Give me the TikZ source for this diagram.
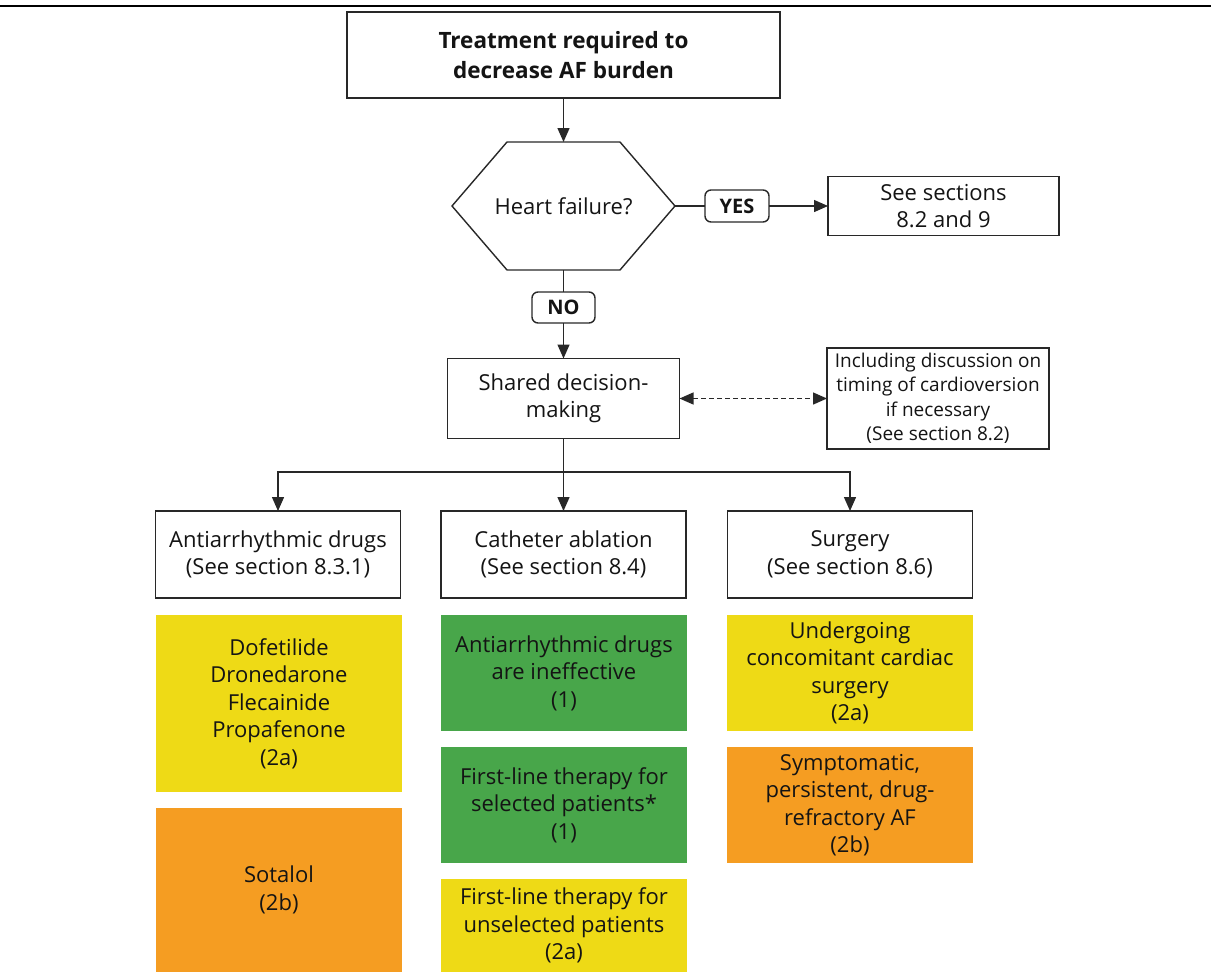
\documentclass[tikz,border=0pt]{standalone}
\usepackage{fontspec}
\setmainfont{Open Sans}
\usetikzlibrary{arrows.meta}
\definecolor{cyel}{RGB}{238,218,22}
\definecolor{cgrn}{RGB}{72,166,74}
\definecolor{corg}{RGB}{245,157,34}
\definecolor{cline}{RGB}{40,40,40}
\definecolor{ctext}{RGB}{20,20,20}
\begin{document}
\begin{tikzpicture}[x=1pt,y=-1pt,
  every node/.style={inner sep=0pt, outer sep=0pt, align=center, text=ctext},
  box/.style={draw=cline, line width=1.4pt, fill=white, font=\fontsize{22}{27.5}\selectfont},
  smallbox/.style={draw=cline, line width=1.4pt, fill=white, font=\fontsize{19}{24.5}\selectfont},
  lbl/.style={draw=cline, line width=1.4pt, fill=white, rounded corners=6pt, font=\fontsize{20}{22}\selectfont\bfseries},
  cbox/.style={font=\fontsize{22}{27.5}\selectfont},
  conn/.style={draw=cline, line width=1.4pt},
  arr/.style={conn, -{Triangle[width=12pt,length=14pt]}},
  darr/.style={conn, dash pattern=on 5pt off 3pt, {Triangle[width=12pt,length=14pt]}-{Triangle[width=12pt,length=14pt]}},
]
\useasboundingbox (0,0) rectangle (1211,972);
\draw[line width=2.5pt, black] (0,6) -- (1211,6);

% top box
\node[box, minimum width=433pt, minimum height=86pt, font=\fontsize{22.5}{30}\selectfont\bfseries] (top) at (563.5,55) {Treatment required to\\decrease AF burden};

% hexagon
\draw[conn] (452,206) -- (507,142) -- (620,142) -- (675,206) -- (620,270) -- (507,270) -- cycle;
\node[font=\fontsize{22}{27.5}\selectfont] (hf) at (563.5,206) {Heart failure?};
\coordinate (hexT) at (563.5,142);
\coordinate (hexB) at (563.5,270);
\coordinate (hexR) at (675,206);

\node[lbl, minimum width=64pt, minimum height=32pt] (yes) at (737,206) {YES};
\node[box, minimum width=231pt, minimum height=59pt] (see) at (943.5,206) {See sections\\8.2 and 9};
\node[lbl, minimum width=63pt, minimum height=31pt] (no) at (563.5,307.5) {NO};

\node[box, minimum width=232pt, minimum height=80pt] (shared) at (563.5,398.5) {Shared decision-\\making};
\node[smallbox, minimum width=222pt, minimum height=101pt] (info) at (938,398.5) {Including discussion on\\timing of cardioversion\\if necessary\\(See section 8.2)};

\node[box, minimum width=245pt, minimum height=87pt] (c1) at (278,554.5) {Antiarrhythmic drugs\\(See section 8.3.1)};
\node[box, minimum width=245pt, minimum height=87pt] (c2) at (563.5,554.5) {Catheter ablation\\(See section 8.4)};
\node[box, minimum width=245pt, minimum height=87pt] (c3) at (850,554.5) {Surgery\\(See section 8.6)};

% coloured boxes
\node[cbox, fill=cyel, minimum width=246pt, minimum height=177pt] (a1) at (279,703.5) {Dofetilide\\Dronedarone\\Flecainide\\Propafenone\\(2a)};
\node[cbox, fill=corg, minimum width=246pt, minimum height=164pt] (a2) at (279,890) {Sotalol\\(2b)};
\node[cbox, fill=cgrn, minimum width=246pt, minimum height=116pt] (b1) at (564,673) {Antiarrhythmic drugs\\are ineffective\\(1)};
\node[cbox, fill=cgrn, minimum width=246pt, minimum height=116pt] (b2) at (564,805) {First-line therapy for\\selected patients*\\(1)};
\node[cbox, fill=cyel, minimum width=246pt, minimum height=93pt] (b3) at (564,925.5) {First-line therapy for\\unselected patients\\(2a)};
\node[cbox, fill=cyel, minimum width=246pt, minimum height=116pt] (d1) at (850,673) {Undergoing\\concomitant cardiac\\surgery\\(2a)};
\node[cbox, fill=corg, minimum width=246pt, minimum height=116pt] (d2) at (850,805) {Symptomatic,\\persistent, drug-\\refractory AF\\(2b)};

% connectors
\draw[arr] (top.south) -- (hexT);
\draw[conn] (hexR) -- (yes.west);
\draw[arr] (yes.east) -- (see.west);
\draw[conn] (hexB) -- (no.north);
\draw[arr] (no.south) -- (shared.north);
\draw[darr] (shared.east) -- (info.west);
\coordinate (br) at (563.5,472);
\draw[arr] (shared.south) -- (c2.north);
\draw[arr] (br) -| (c1.north);
\draw[arr] (br) -| (c3.north);
\end{tikzpicture}
\end{document}
